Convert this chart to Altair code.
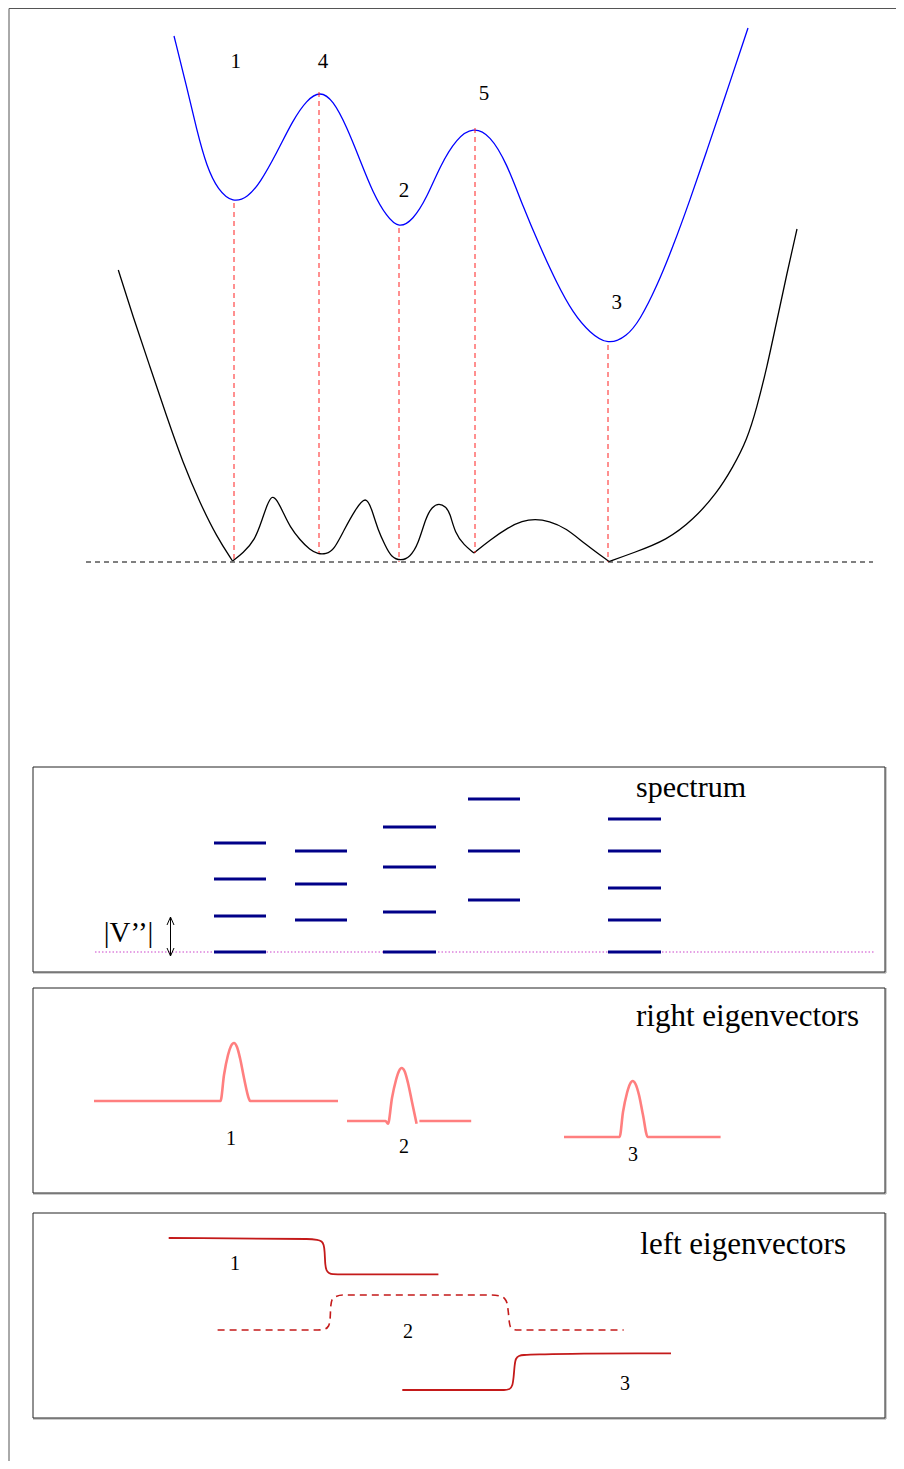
import altair as alt
import pandas as pd

# ---------------- data (image pixel coordinates) ----------------
BLUE_X = [174, 186.7, 196.7, 206.7, 218, 233, 248, 260, 276.7, 293, 306.7, 320, 333, 346.7, 360, 373,
          386.7, 399, 413, 426.7, 440, 456.7, 473.3, 490, 506.7, 523, 540, 556.7, 573, 590, 608,
          626.7, 640, 656.7, 673, 690, 706.7, 723, 748]
BLUE_Y = [36, 86.7, 130, 166.7, 190, 203, 197, 183, 153, 120, 100, 91, 100, 126.7, 160, 193,
          216.7, 228.5, 220, 198, 166, 138, 127, 135, 163, 206.7, 246.7, 283, 313, 333, 345,
          336.7, 320, 286.7, 246.7, 200, 151, 103, 28]

BLACK_X = [118.3, 133, 150, 166.7, 183, 200, 216.7, 232.5, 243, 255, 262, 267, 272, 277, 283, 290,
           300, 310, 318, 326, 334, 344, 355, 366, 372, 378, 385, 391, 401, 410, 418, 426, 432, 439,
           446, 450, 455, 464, 474, 490, 509, 522, 535, 549, 566, 585, 609, 633, 667, 693, 717, 733,
           747, 757, 767, 777, 787, 797]
BLACK_Y = [270, 316.7, 366.7, 416.7, 463, 503, 536.7, 561, 553, 540, 520, 505, 495, 500, 512, 527,
           540, 550, 554, 554, 550, 530, 510, 495, 510, 530, 545, 557, 561, 557, 545, 517, 507, 503,
           507, 513, 533, 545, 553, 540, 527, 521, 519, 521, 528, 544, 561.5, 553, 540, 520, 493, 467,
           440, 407, 367, 320, 273, 229]
BLACK_CORNERS = [232.5, 474, 609]   # x of the sharp corners of the black curve

BASE_X0, BASE_X1, BASE_Y = 86, 873, 562

DROP_X = [234, 319, 399, 475, 608]
DROP_TOP = [203, 92, 228, 128, 345]
DROP_BOTTOM = [562, 553, 562, 553, 562]

TOP_LABELS = ["1", "4", "5", "2", "3"]
TOP_LABEL_X = [235.7, 323, 484, 404, 616.7]
TOP_LABEL_Y = [62, 62, 94, 190.5, 303]

# spectrum
LEVEL_X0 = [214, 295, 383, 468, 608]
LEVEL_X1 = [266, 347, 436, 520, 661]
LEVELS = [[843, 879, 916, 952], [851, 884, 920], [827, 867, 912, 952], [799, 851, 900],
          [819, 851, 888, 920, 952]]
DOT_X0, DOT_X1, DOT_Y = 95, 874, 952
ARROW_X, ARROW_TOP, ARROW_BOTTOM = 170.5, 917, 956

# right eigenvectors
R1_X = [94, 220.5, 224, 228, 231, 234, 237, 240, 244, 249, 250, 338]
R1_Y = [1101, 1101, 1075, 1055, 1046, 1043, 1047, 1058, 1078, 1099, 1101, 1101]
R2_X = [347, 385.5, 388, 392, 396, 399, 401.6, 404.5, 408, 412, 416.6]
R2_Y = [1121, 1121, 1123.7, 1098, 1080, 1071, 1068, 1071, 1083, 1102, 1123.7]
R2B_X = [419.4, 471.2]
R2B_Y = [1121, 1121]
R3_X = [564, 619, 619.6, 623, 627, 630, 632.7, 635.5, 639, 643, 647.7, 649, 720.6]
R3_Y = [1137, 1137, 1137, 1112, 1093, 1084, 1081, 1084, 1095, 1115, 1137, 1137, 1137]

# left eigenvectors
L1_X = [168.7, 306.6, 317, 321.5, 323.6, 324.6, 325.3, 326.5, 329, 333, 338, 438.4]
L1_Y = [1238, 1239, 1239.8, 1241.5, 1245, 1252, 1264, 1270, 1273, 1274.2, 1274.3, 1274.3]
L2_X = [217.6, 317.8, 325, 328.5, 330, 330.8, 332, 335, 342.8, 490, 500, 504.5, 507, 508.3, 509.3,
        510.5, 513.5, 518, 623.7]
L2_Y = [1330, 1330, 1329, 1326, 1320, 1306, 1300, 1297, 1295, 1295, 1296, 1298.5, 1303, 1312, 1322,
        1327, 1329.5, 1330, 1330]
L3_X = [402.3, 504, 509.5, 512.3, 513.6, 514.6, 516, 519, 524, 545, 584.7, 671]
L3_Y = [1390, 1390, 1389, 1385, 1377, 1366, 1359, 1356, 1355, 1354.3, 1353.7, 1353.3]

# panels
PANEL_LEFT, PANEL_RIGHT = 33, 885
PANEL_TOP = [767, 988, 1213]
PANEL_BOTTOM = [972, 1193, 1418]
PANEL_TITLES = ["spectrum", "right eigenvectors", "left eigenvectors"]
PANEL_TITLE_X = [746, 859, 846]
PANEL_TITLE_Y = [788, 1017, 1245]
PANEL_TITLE_SIZE = [30, 31, 31]

EIG_LABELS = ["1", "2", "3", "1", "2", "3"]
EIG_LABEL_X = [231, 404, 633, 235, 408, 625]
EIG_LABEL_Y = [1139, 1147, 1155, 1264, 1332, 1384]

# ---------------- scales ----------------
XS = alt.Scale(domain=[8, 896], nice=False, zero=False)
YS = alt.Scale(domain=[8, 1461], nice=False, zero=False, reverse=True)


def X(f="x"):
    return alt.X(f + ":Q", scale=XS, axis=None)


def Y(f="y"):
    return alt.Y(f + ":Q", scale=YS, axis=None)


def curve(xs, ys, color, width, dash=None, interp="monotone", seg=None):
    df = pd.DataFrame({"x": xs, "y": ys, "i": range(len(xs)),
                       "seg": seg if seg is not None else [0] * len(xs)})
    kw = dict(color=color, strokeWidth=width, interpolate=interp, clip=False)
    if dash:
        kw["strokeDash"] = dash
    return alt.Chart(df).mark_line(**kw).encode(x=X(), y=Y(), order="i:Q", detail="seg:N")


layers = []

# frame lines of the page
frame = pd.DataFrame({"x": [9, 9], "x2": [9, 896], "y": [8.5, 8.5], "y2": [1461, 8.5]})
layers.append(alt.Chart(frame).mark_rule(color="#555555", strokeWidth=1).encode(
    x=X(), x2="x2:Q", y=Y(), y2="y2:Q"))

# top diagram
layers.append(curve(BLUE_X, BLUE_Y, "#0000ff", 1.3, interp="basis"))

# black curve split at its sharp corners (the corner point belongs to both pieces)
bx, by, bs = [], [], []
s = 0
for xv, yv in zip(BLACK_X, BLACK_Y):
    bx.append(xv); by.append(yv); bs.append(s)
    if xv in BLACK_CORNERS:
        s += 1
        bx.append(xv); by.append(yv); bs.append(s)
layers.append(curve(bx, by, "#000000", 1.3, interp="basis", seg=bs))

drops = pd.DataFrame({"x": DROP_X, "y": DROP_TOP, "y2": DROP_BOTTOM})
layers.append(alt.Chart(drops).mark_rule(color="#ff2020", strokeWidth=1, strokeDash=[5, 4]).encode(
    x=X(), y=Y(), y2="y2:Q"))
base = pd.DataFrame({"x": [BASE_X0], "x2": [BASE_X1], "y": [BASE_Y]})
layers.append(alt.Chart(base).mark_rule(color="#000000", strokeWidth=1, strokeDash=[5, 4]).encode(
    x=X(), x2="x2:Q", y=Y()))
tl = pd.DataFrame({"t": TOP_LABELS, "x": TOP_LABEL_X, "y": TOP_LABEL_Y})
layers.append(alt.Chart(tl).mark_text(font="Liberation Serif", fontSize=21, color="black",
                                       baseline="middle").encode(x=X(), y=Y(), text="t:N"))

# panels (with a light shadow on the bottom/right edges)
shadow = pd.DataFrame({"x": [PANEL_LEFT] * 3 + [PANEL_RIGHT + 1] * 3,
                       "x2": [PANEL_RIGHT + 1] * 3 + [PANEL_RIGHT + 1] * 3,
                       "y": [b + 1 for b in PANEL_BOTTOM] + PANEL_TOP,
                       "y2": [b + 1 for b in PANEL_BOTTOM] + [b + 1 for b in PANEL_BOTTOM]})
layers.append(alt.Chart(shadow).mark_rule(color="#999999", strokeWidth=1).encode(
    x=X(), x2="x2:Q", y=Y(), y2="y2:Q"))
pan = pd.DataFrame({"x": [PANEL_LEFT] * 3, "x2": [PANEL_RIGHT] * 3, "y": PANEL_TOP, "y2": PANEL_BOTTOM})
layers.append(alt.Chart(pan).mark_rect(fillOpacity=0, stroke="#222222", strokeWidth=1).encode(
    x=X(), x2="x2:Q", y=Y(), y2="y2:Q"))
for t, xv, yv, fs in zip(PANEL_TITLES, PANEL_TITLE_X, PANEL_TITLE_Y, PANEL_TITLE_SIZE):
    pt = pd.DataFrame({"t": [t], "x": [xv], "y": [yv]})
    layers.append(alt.Chart(pt).mark_text(font="Liberation Serif", fontSize=fs, color="black",
                                           align="right", baseline="middle").encode(
        x=X(), y=Y(), text="t:N"))

# spectrum
rows = []
for c, ys in enumerate(LEVELS):
    for yv in ys:
        rows.append({"x": LEVEL_X0[c], "x2": LEVEL_X1[c], "y": yv})
lev = pd.DataFrame(rows)
dot = pd.DataFrame({"x": [DOT_X0], "x2": [DOT_X1], "y": [DOT_Y]})
layers.append(alt.Chart(dot).mark_rule(color="#cc44cc", strokeWidth=1.2, strokeDash=[1.5, 2]).encode(
    x=X(), x2="x2:Q", y=Y()))
layers.append(alt.Chart(lev).mark_rule(color="#000088", strokeWidth=3).encode(
    x=X(), x2="x2:Q", y=Y()))
arr = pd.DataFrame({"x": [ARROW_X], "y": [ARROW_TOP], "y2": [ARROW_BOTTOM]})
layers.append(alt.Chart(arr).mark_rule(color="black", strokeWidth=1).encode(x=X(), y=Y(), y2="y2:Q"))
layers.append(curve([ARROW_X - 3.5, ARROW_X, ARROW_X + 3.5], [ARROW_TOP + 8, ARROW_TOP, ARROW_TOP + 8],
                    "black", 1, interp="linear"))
layers.append(curve([ARROW_X - 3.5, ARROW_X, ARROW_X + 3.5],
                    [ARROW_BOTTOM - 8, ARROW_BOTTOM, ARROW_BOTTOM - 8], "black", 1, interp="linear"))
vl = pd.DataFrame({"t": ["|V\u2019\u2019|"], "x": [128.5], "y": [933]})
layers.append(alt.Chart(vl).mark_text(font="Liberation Serif", fontSize=29, color="black",
                                       baseline="middle").encode(x=X(), y=Y(), text="t:N"))

# right eigenvectors
SALMON = "#ff7f7f"
layers.append(curve(R1_X, R1_Y, SALMON, 2.6))
layers.append(curve(R2_X, R2_Y, SALMON, 2.6))
layers.append(curve(R2B_X, R2B_Y, SALMON, 2.6, interp="linear"))
layers.append(curve(R3_X, R3_Y, SALMON, 2.6))

# left eigenvectors
DRED = "#c41a1a"
layers.append(curve(L1_X, L1_Y, DRED, 1.8))
layers.append(curve(L2_X, L2_Y, DRED, 1.6, dash=[7, 5]))
layers.append(curve(L3_X, L3_Y, DRED, 1.8))

el = pd.DataFrame({"t": EIG_LABELS, "x": EIG_LABEL_X, "y": EIG_LABEL_Y})
layers.append(alt.Chart(el).mark_text(font="Liberation Serif", fontSize=20, color="black",
                                       baseline="middle").encode(x=X(), y=Y(), text="t:N"))

chart = alt.layer(*layers).properties(
    width=888, height=1453, padding=0, autosize="none"
).configure_view(stroke=None)

chart.save("out.html", embed_options={"renderer": "svg", "actions": False})
